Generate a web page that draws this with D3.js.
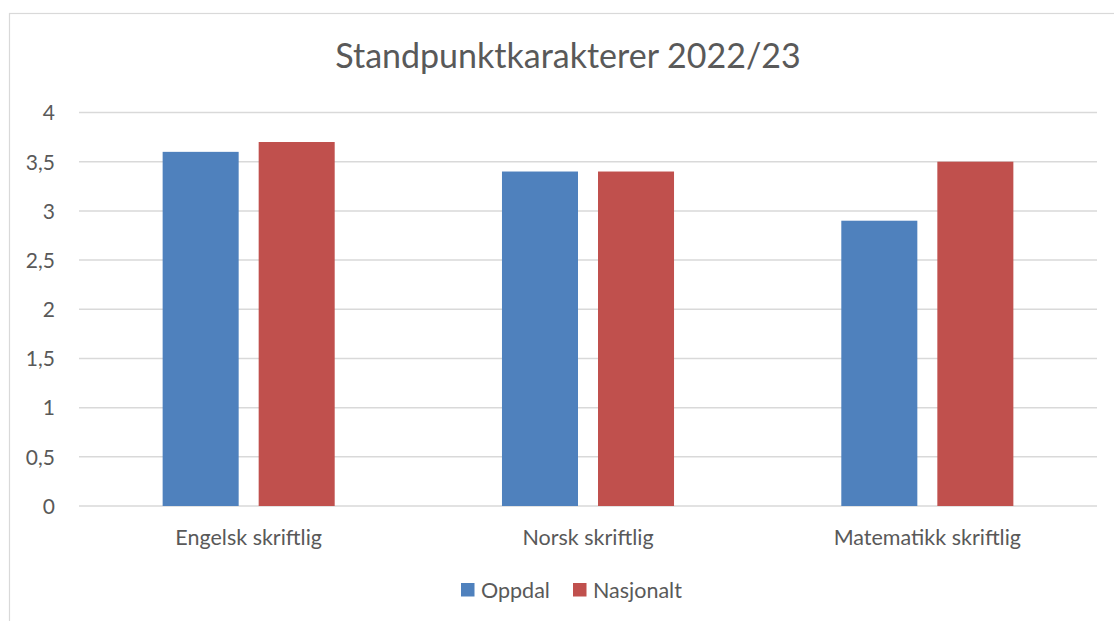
<!DOCTYPE html>
<html><head><meta charset="utf-8">
<script src="https://cdn.jsdelivr.net/npm/d3@7"></script>
<style>body{margin:0;background:#fff}svg{display:block}text{font-family:Lato,"Open Sans",sans-serif;fill:#595959}</style>
</head><body><svg id="c" width="1114" height="621"></svg>
<script>
const title = "Standpunktkarakterer 2022/23";
const categories = ["Engelsk skriftlig", "Norsk skriftlig", "Matematikk skriftlig"];
const seriesNames = ["Oppdal", "Nasjonalt"];
const oppdal = [3.6, 3.4, 2.9];
const nasjonalt = [3.7, 3.4, 3.5];
const yTicks = [0, 0.5, 1, 1.5, 2, 2.5, 3, 3.5, 4];
const colors = ["#4F81BD", "#C0504D"];

const svg = d3.select("#c");
// outer border
svg.append("rect").attr("x", 9.5).attr("y", 13.5).attr("width", 1120).attr("height", 620)
  .attr("fill", "none").attr("stroke", "#D9D9D9").attr("stroke-width", 1.2);

const L = 79, R = 1097, T = 112.5, B = 506;
const x0 = d3.scaleBand().domain(categories).range([L, R]);
const x1 = d3.scaleBand().domain(seriesNames).range([0, x0.bandwidth()]).paddingInner(0.2083).paddingOuter(0.871);
const y = d3.scaleLinear().domain([0, 4]).range([B, T]);

const g = svg.append("g");
// gridlines
g.selectAll("line.grid").data(yTicks).join("line")
  .attr("x1", L).attr("x2", R).attr("y1", d => y(d)).attr("y2", d => y(d))
  .attr("stroke", "#D9D9D9").attr("stroke-width", 1.5);

// y axis
const yAxis = d3.axisLeft(y).tickValues(yTicks).tickSize(0).tickPadding(0)
  .tickFormat(d => String(d).replace(".", ","));
const ya = svg.append("g").attr("transform", `translate(${L - 24},0)`).call(yAxis);
ya.select(".domain").remove();
ya.selectAll("text").attr("font-size", 21).attr("fill", "#595959").attr("text-anchor", "end").attr("dy", "0.35em");

// bars
const data = categories.map((c, i) => ({c, vals: [oppdal[i], nasjonalt[i]]}));
const cg = svg.selectAll("g.cat").data(data).join("g").attr("transform", d => `translate(${x0(d.c)},0)`);
cg.selectAll("rect").data(d => d.vals.map((v, j) => ({s: seriesNames[j], v, j}))).join("rect")
  .attr("x", d => x1(d.s)).attr("width", x1.bandwidth())
  .attr("y", d => y(d.v)).attr("height", d => y(0) - y(d.v))
  .attr("fill", d => colors[d.j]);

// x axis labels
const xAxis = d3.axisBottom(x0).tickSize(0).tickPadding(0);
const xa = svg.append("g").attr("transform", `translate(0,${B + 31})`).call(xAxis);
xa.select(".domain").remove();
xa.selectAll("text").attr("font-size", 21.5).attr("fill", "#595959").attr("dy", "0.35em");

// title
svg.append("text").attr("x", 568).attr("y", 59).attr("text-anchor", "middle")
  .attr("dominant-baseline", "middle").attr("font-size", 34).text(title);

// legend
const legX = [461, 573];
const lg = svg.selectAll("g.leg").data(seriesNames).join("g")
  .attr("transform", (d, i) => `translate(${legX[i]},583)`);
lg.append("rect").attr("width", 13.5).attr("height", 13.5).attr("fill", (d, i) => colors[i]);
lg.append("text").attr("x", 20).attr("y", 7).attr("dy", "0.35em").attr("font-size", 21.5).text(d => d);
</script></body></html>
